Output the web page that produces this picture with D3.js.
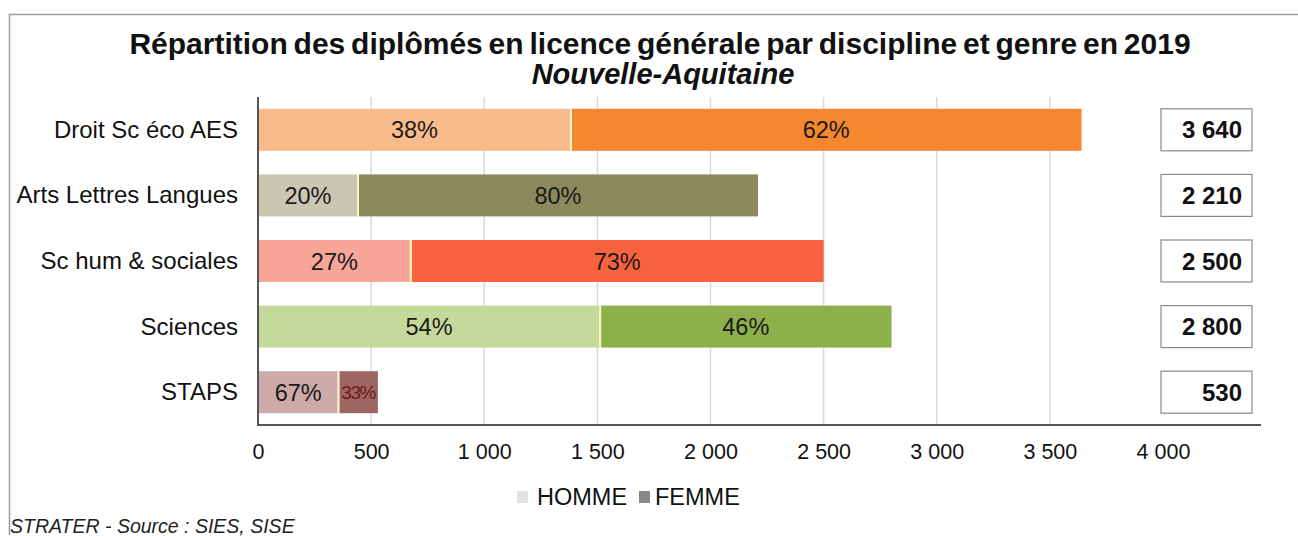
<!DOCTYPE html>
<html><head><meta charset="utf-8">
<script src="https://cdn.jsdelivr.net/npm/d3@7"></script>
<style>
body{margin:0;background:#fff;}
svg text{font-family:"Liberation Sans",Arial,sans-serif;}
</style></head>
<body><svg id="c" width="1298" height="536"></svg>
<script>
const categories = ["Droit Sc éco AES","Arts Lettres Langues","Sc hum & sociales","Sciences","STAPS"];
const totals = [3640, 2210, 2500, 2800, 530];
const hommePct = [38, 20, 27, 54, 67];
const femmePct = [62, 80, 73, 46, 33];
const totalLabels = ["3 640","2 210","2 500","2 800","530"];
const hommeColors = ["#f9bb8c","#c9c7b2","#f7a597","#c6d99c","#cbaaa7"];
const femmeColors = ["#f5872f","#8c8a5d","#f8623f","#8db04b","#9d6662"];
const tickValues = [0,500,1000,1500,2000,2500,3000,3500,4000];
const legendKeys = ["HOMME","FEMME"];
const legendColors = ["#e2e2e2","#888888"];

const svg = d3.select("#c");
const fmt = v => d3.format(",")(v).replace(/,/g, " ");

// frame
svg.append("path").attr("d","M9.5,535 L9.5,14.5 L1298,14.5").attr("fill","none").attr("stroke","#9a9a9a").attr("stroke-width",1.5);

// title
svg.append("text").attr("x",660).attr("y",54).attr("text-anchor","middle")
  .attr("font-size",30).attr("font-weight","bold").attr("fill","#111").attr("word-spacing",-2.5)
  .text("Répartition des diplômés en licence générale par discipline et genre en 2019");
svg.append("text").attr("x",663).attr("y",84).attr("text-anchor","middle")
  .attr("font-size",29).attr("font-weight","bold").attr("font-style","italic").attr("fill","#111")
  .text("Nouvelle-Aquitaine");

const x = d3.scaleLinear().domain([0,4000]).range([258,1163]);
const y = d3.scaleBand().domain(categories).range([97,425]).paddingInner(0.36).paddingOuter(0.18);

// gridlines
svg.append("g").selectAll("line").data(tickValues.filter(v=>v>0 && v<4000)).join("line")
  .attr("x1",d=>x(d)).attr("x2",d=>x(d)).attr("y1",97).attr("y2",425)
  .attr("stroke","#d9d9d9").attr("stroke-width",1.5);

// x axis
const xAxis = d3.axisBottom(x).tickValues(tickValues).tickFormat(fmt).tickSize(0).tickPadding(19);
const gx = svg.append("g").attr("transform","translate(0,425)").call(xAxis);
gx.select(".domain").remove();
gx.selectAll("text").attr("font-size",21.5).attr("fill","#111").attr("font-family","Liberation Sans, Arial, sans-serif");
svg.append("line").attr("x1",258).attr("x2",1261).attr("y1",425).attr("y2",425).attr("stroke","#555").attr("stroke-width",2);
svg.append("line").attr("x1",258).attr("x2",258).attr("y1",97).attr("y2",426).attr("stroke","#555").attr("stroke-width",2);

// bars
const rows = categories.map((c,i)=>({c,i,h:totals[i]*hommePct[i]/100,t:totals[i]}));
const g = svg.append("g");
g.selectAll("rect.h").data(rows).join("rect").attr("class","h")
  .attr("x",x(0)+1).attr("y",d=>y(d.c)).attr("height",y.bandwidth())
  .attr("width",d=>x(d.h)-x(0)-1).attr("fill",d=>hommeColors[d.i]);
g.selectAll("rect.f").data(rows).join("rect").attr("class","f")
  .attr("x",d=>x(d.h)+1).attr("y",d=>y(d.c)).attr("height",y.bandwidth())
  .attr("width",d=>x(d.t)-x(d.h)-1).attr("fill",d=>femmeColors[d.i]);
g.selectAll("line.sep").data(rows).join("line").attr("class","sep")
  .attr("x1",d=>x(d.h)).attr("x2",d=>x(d.h)).attr("y1",d=>y(d.c)).attr("y2",d=>y(d.c)+y.bandwidth())
  .attr("stroke","#fdf2c8").attr("stroke-width",2);

// percent labels
g.selectAll("text.hl").data(rows).join("text").attr("class","hl")
  .attr("x",d=>(x(0)+x(d.h))/2).attr("y",d=>y(d.c)+y.bandwidth()/2+8.5)
  .attr("text-anchor","middle").attr("font-size",23.5).attr("fill","#1a1a1a")
  .text(d=>hommePct[d.i]+"%");
g.selectAll("text.fl").data(rows).join("text").attr("class","fl")
  .attr("x",d=>(x(d.h)+x(d.t))/2).attr("y",d=>y(d.c)+y.bandwidth()/2+(d.i===4?7:8.5))
  .attr("text-anchor","middle").attr("font-size",d=>d.i===4?19:23.5)
  .attr("letter-spacing",d=>d.i===4?-1.5:0)
  .attr("fill",d=>d.i===4?"#6e1a1a":"#1a1a1a")
  .text(d=>femmePct[d.i]+"%");

// category labels
svg.append("g").selectAll("text").data(categories).join("text")
  .attr("x",238).attr("y",d=>y(d)+y.bandwidth()/2+8).attr("text-anchor","end")
  .attr("font-size",24).attr("fill","#111").text(d=>d);

// total boxes
const tb = svg.append("g");
tb.selectAll("rect").data(rows).join("rect")
  .attr("x",1161).attr("y",d=>y(d.c)).attr("width",91).attr("height",y.bandwidth())
  .attr("fill","#fff").attr("stroke","#8a8a8a").attr("stroke-width",1.2);
tb.selectAll("text").data(rows).join("text")
  .attr("x",1242).attr("y",d=>y(d.c)+y.bandwidth()/2+8.5).attr("text-anchor","end")
  .attr("font-size",24).attr("font-weight","bold").attr("fill","#111")
  .text(d=>totalLabels[d.i]);

// legend
const lg = svg.append("g");
const lx = [517, 639];
legendKeys.forEach((k,i)=>{
  lg.append("rect").attr("x",lx[i]).attr("y",491).attr("width",11).attr("height",12).attr("fill",legendColors[i]);
  lg.append("text").attr("x",lx[i]+(i===0?20:16)).attr("y",505).attr("font-size",23.5).attr("fill","#111").text(k);
});

// source
svg.append("text").attr("x",10).attr("y",533).attr("font-size",19.5).attr("font-style","italic").attr("fill","#222")
  .text("STRATER - Source : SIES, SISE");
</script></body></html>
